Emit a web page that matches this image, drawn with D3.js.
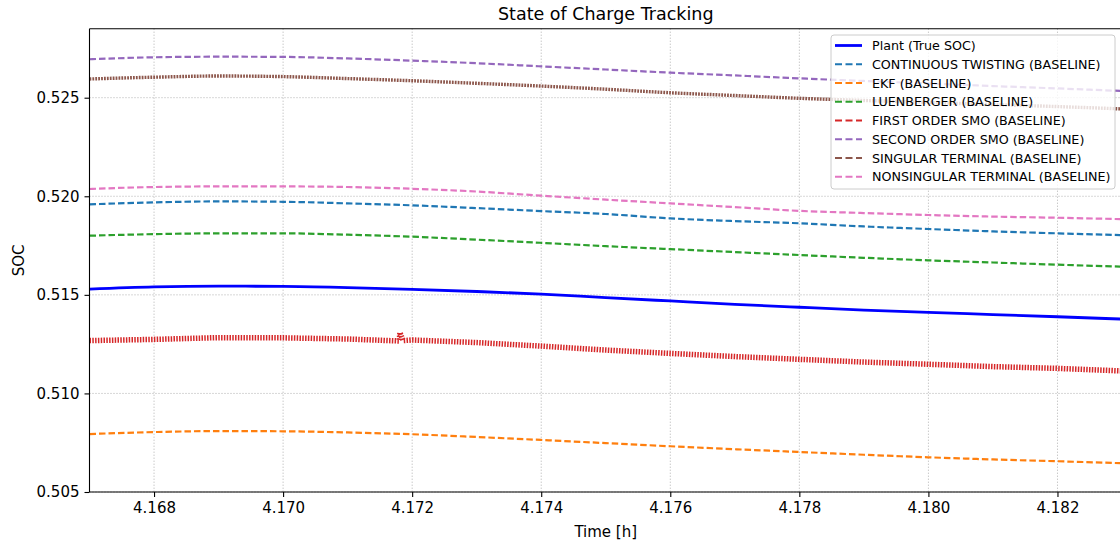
<!DOCTYPE html>
<html><head><meta charset="utf-8">
<script src="https://cdn.jsdelivr.net/npm/d3@7"></script>
<style>body{margin:0;background:#fff}svg{display:block;font-family:"DejaVu Sans",sans-serif}</style>
</head><body><svg id="c" width="1120" height="543"></svg>
<script>
const time = [4.167,4.168,4.169,4.170,4.171,4.172,4.173,4.174,4.175,4.176,4.177,4.178,4.179,4.180,4.181,4.182,4.183];
const plant = [0.51529,0.51540,0.51544,0.51543,0.51537,0.51528,0.51517,0.51504,0.51486,0.51469,0.51452,0.51437,0.51423,0.51411,0.51400,0.51389,0.51377];
const twisting = [0.51959,0.51969,0.51974,0.51972,0.51964,0.51954,0.51940,0.51925,0.51910,0.51888,0.51874,0.51863,0.51847,0.51834,0.51822,0.51812,0.51803];
const ekf = [0.50794,0.50804,0.50809,0.50808,0.50802,0.50793,0.50779,0.50764,0.50748,0.50732,0.50717,0.50703,0.50689,0.50676,0.50665,0.50656,0.50646];
const luenberger = [0.51800,0.51808,0.51812,0.51812,0.51805,0.51795,0.51780,0.51764,0.51747,0.51732,0.51717,0.51702,0.51688,0.51675,0.51664,0.51653,0.51643];
const smo1Time = [4.167,4.168,4.169,4.170,4.171,4.1718,4.17181,4.17186,4.172,4.173,4.174,4.175,4.176,4.177,4.178,4.179,4.180,4.181,4.182,4.183];
const smo1 = [0.51268,0.51274,0.51283,0.51282,0.51276,0.51266,0.51309,0.51268,0.51271,0.51258,0.51240,0.51220,0.51203,0.51187,0.51173,0.51159,0.51148,0.51136,0.51127,0.51114];
const smo2 = [0.52695,0.52705,0.52708,0.52707,0.52699,0.52688,0.52675,0.52659,0.52643,0.52627,0.52613,0.52598,0.52585,0.52572,0.52559,0.52547,0.52534];
const singular = [0.52595,0.52604,0.52610,0.52607,0.52597,0.52586,0.52573,0.52559,0.52543,0.52525,0.52511,0.52497,0.52486,0.52476,0.52465,0.52455,0.52443];
const nonsingular = [0.52037,0.52047,0.52050,0.52050,0.52047,0.52038,0.52024,0.52003,0.51983,0.51964,0.51945,0.51926,0.51915,0.51905,0.51897,0.51891,0.51884];
const xTicks = [4.168,4.170,4.172,4.174,4.176,4.178,4.180,4.182];
const yTicks = [0.505,0.510,0.515,0.520,0.525];
const seriesNames = ["Plant (True SOC)","CONTINUOUS TWISTING (BASELINE)","EKF (BASELINE)","LUENBERGER (BASELINE)","FIRST ORDER SMO (BASELINE)","SECOND ORDER SMO (BASELINE)","SINGULAR TERMINAL (BASELINE)","NONSINGULAR TERMINAL (BASELINE)"];
const seriesColors = ["#0000ff","#1f77b4","#ff7f0e","#2ca02c","#d62728","#9467bd","#8c564b","#e377c2"];

const svg = d3.select("#c");
const L = 89.5, R = 1122, T = 28.7, B = 492;
const x = d3.scaleLinear().domain([4.167, 4.183]).range([L, R]);
const y = d3.scaleLinear().domain([0.505, 0.5285]).range([B, T]);

const defs = svg.append("defs");
defs.append("clipPath").attr("id","clip").append("rect")
  .attr("x",L).attr("y",T).attr("width",R-L).attr("height",B-T);

// grid
const grid = svg.append("g");
grid.selectAll(".gx").data(xTicks).join("line")
  .attr("x1",d=>x(d)).attr("x2",d=>x(d)).attr("y1",T).attr("y2",B)
  .attr("stroke","#b0b0b0").attr("stroke-width",1).attr("stroke-dasharray","1,2");
grid.selectAll(".gy").data(yTicks).join("line")
  .attr("x1",L).attr("x2",R).attr("y1",d=>y(d)).attr("y2",d=>y(d))
  .attr("stroke","#b0b0b0").attr("stroke-width",1).attr("stroke-dasharray","1,2");

const plot = svg.append("g").attr("clip-path","url(#clip)");
const line = (ts, curve) => d3.line().x((d,i)=>x(ts[i])).y(d=>y(d)).curve(curve);

const series = [
  {v:plant, t:time, c:0, w:2.8, dash:null, curve:d3.curveMonotoneX},
  {v:twisting, t:time, c:1, w:2.2, dash:"6.5,3", curve:d3.curveMonotoneX},
  {v:ekf, t:time, c:2, w:2.2, dash:"6.5,3", curve:d3.curveMonotoneX},
  {v:luenberger, t:time, c:3, w:2.2, dash:"6.5,3", curve:d3.curveMonotoneX},
  {v:smo1, t:smo1Time, c:4, w:5.5, dash:"1.5,1.3", curve:d3.curveLinear},
  {v:smo2, t:time, c:5, w:2.2, dash:"6.5,3", curve:d3.curveMonotoneX},
  {v:singular, t:time, c:6, w:3.4, dash:"1.8,1.1", curve:d3.curveMonotoneX},
  {v:nonsingular, t:time, c:7, w:2.2, dash:"6.5,3", curve:d3.curveMonotoneX}
];
series.forEach(s=>{
  plot.append("path").datum(s.v).attr("d", line(s.t, s.curve))
    .attr("fill","none").attr("stroke",seriesColors[s.c]).attr("stroke-width",s.w)
    .attr("stroke-dasharray",s.dash);
});

// axes
const xAxis = d3.axisBottom(x).tickValues(xTicks).tickFormat(d3.format(".3f")).tickSize(5).tickPadding(5);
const yAxis = d3.axisLeft(y).tickValues(yTicks).tickFormat(d3.format(".3f")).tickSize(5).tickPadding(5);
const gx = svg.append("g").attr("transform",`translate(0,${B})`).call(xAxis);
const gy = svg.append("g").attr("transform",`translate(${L},0)`).call(yAxis);
[gx,gy].forEach(g=>{
  g.select(".domain").remove();
  g.selectAll("text").attr("font-size",15).attr("fill","#000").attr("font-family","DejaVu Sans");
  g.selectAll("line").attr("stroke","#000").attr("stroke-width",1.1);
});
// spines
svg.append("line").attr("x1",L).attr("x2",R).attr("y1",B).attr("y2",B).attr("stroke","#000").attr("stroke-width",1.1);
svg.append("line").attr("x1",L).attr("x2",R).attr("y1",T).attr("y2",T).attr("stroke","#000").attr("stroke-width",1.1);
svg.append("line").attr("x1",L).attr("x2",L).attr("y1",T).attr("y2",B).attr("stroke","#000").attr("stroke-width",1.1);

// labels
svg.append("text").attr("x",(L+R)/2).attr("y",20).attr("text-anchor","middle")
  .attr("font-size",17.5).text("State of Charge Tracking");
svg.append("text").attr("x",(L+R)/2).attr("y",537).attr("text-anchor","middle")
  .attr("font-size",15).text("Time [h]");
svg.append("text").attr("transform",`translate(24,${(T+B)/2}) rotate(-90)`).attr("text-anchor","middle")
  .attr("font-size",15).text("SOC");

// legend
const lg = svg.append("g");
lg.append("rect").attr("x",831).attr("y",35).attr("width",284).attr("height",154).attr("rx",3)
  .attr("fill","#fff").attr("fill-opacity",0.8).attr("stroke","#cccccc").attr("stroke-width",1);
seriesNames.forEach((n,i)=>{
  const yy = 45.5 + i*18.75;
  lg.append("line").attr("x1",835).attr("x2",862).attr("y1",yy).attr("y2",yy)
    .attr("stroke",seriesColors[i]).attr("stroke-width",i===0?2.8:2.2)
    .attr("stroke-dasharray",i===0?null:"7,3.5");
  lg.append("text").attr("x",872).attr("y",yy+4.5).attr("font-size",12.7).text(n);
});
</script></body></html>
